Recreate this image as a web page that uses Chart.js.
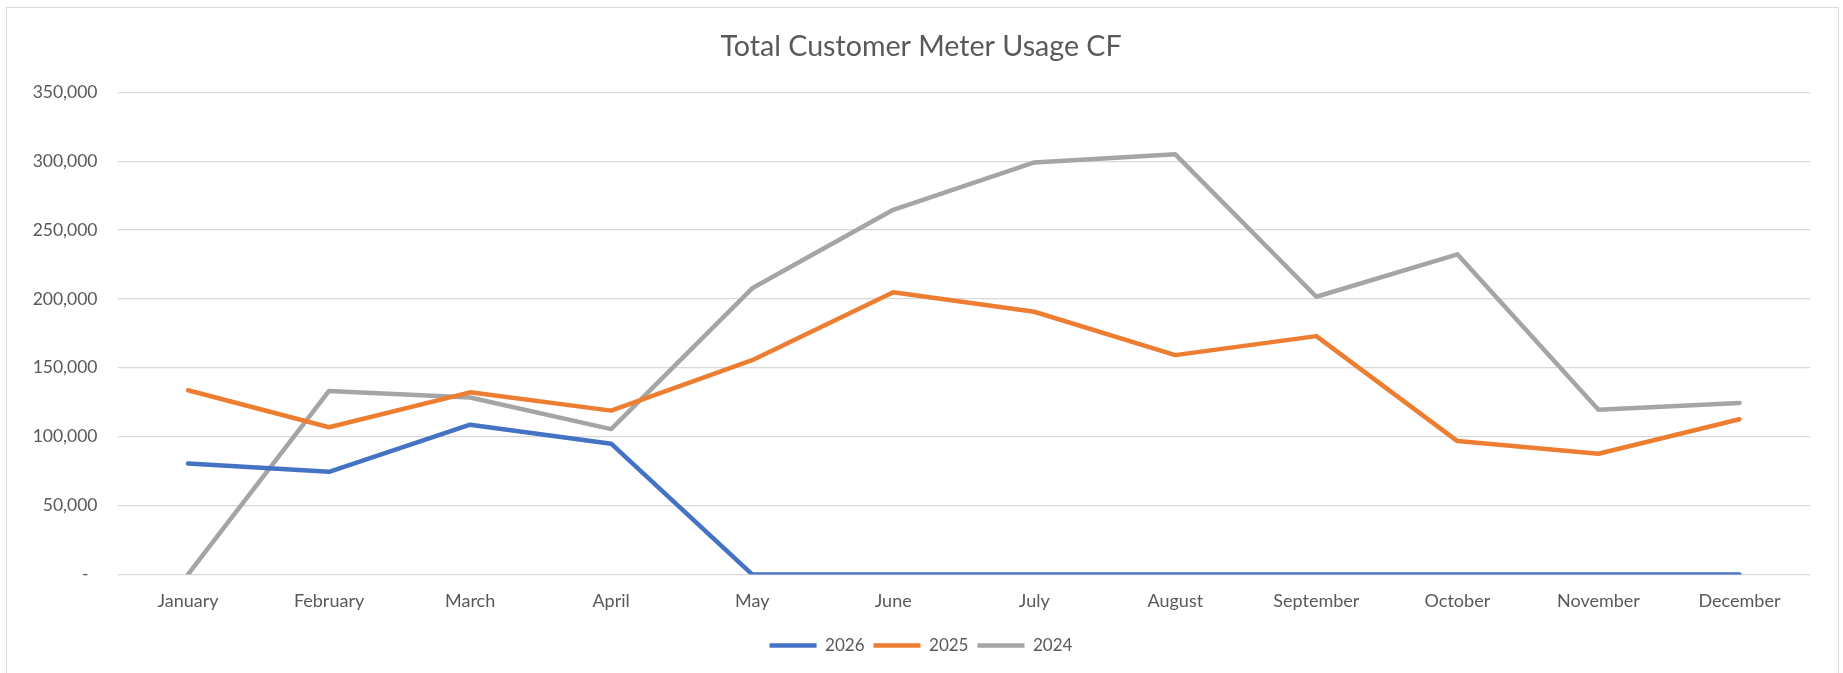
<!DOCTYPE html>
<html>
<head>
<meta charset="utf-8">
<script src="https://cdn.jsdelivr.net/npm/chart.js@4"></script>
<style>
  html, body { margin: 0; padding: 0; background: #fff; }
  #wrap { position: relative; width: 1843px; height: 673px; }
  #frame { position: absolute; left: 6px; top: 7px; width: 1833px; height: 700px; border: 1px solid #d9d9d9; box-sizing: border-box; }
  canvas { position: absolute; left: 0; top: 0; }
</style>
</head>
<body>
<div id="wrap">
  <div id="frame"></div>
  <canvas id="usageChart" width="1843" height="673"></canvas>
</div>
<script>
// monthly meter usage, cubic feet
var months = ['January', 'February', 'March', 'April', 'May', 'June',
  'July', 'August', 'September', 'October', 'November', 'December'];
var usage2026 = [80500, 74500, 108700, 94900, 0, 0, 0, 0, 0, 0, 0, 0];
var usage2025 = [133700, 106800, 132200, 118900, 155500, 204800, 190700, 159200, 173000, 96800, 87600, 112600];
var usage2024 = [0, 133200, 128400, 105500, 207700, 264700, 299100, 305000, 201600, 232400, 119600, 124500];
var yTicks = [0, 50000, 100000, 150000, 200000, 250000, 300000, 350000];

var textColor = '#595959';
var fontFamily = 'Lato, "Liberation Sans", sans-serif';

function lineSet(label, data, color) {
  return {
    label: label,
    data: data,
    borderColor: color,
    backgroundColor: color,
    borderWidth: 4.5,
    borderCapStyle: 'round',
    borderJoinStyle: 'round',
    pointRadius: 0,
    pointHoverRadius: 0,
    tension: 0,
    fill: false
  };
}

document.addEventListener('DOMContentLoaded', function () {
  var ctx = document.getElementById('usageChart').getContext('2d');
  new Chart(ctx, {
    type: 'line',
    data: {
      labels: months,
      datasets: [
        lineSet('2026', usage2026, '#4472C4'),
        lineSet('2025', usage2025, '#ED7D31'),
        lineSet('2024', usage2024, '#A5A5A5')
      ]
    },
    options: {
      responsive: false,
      animation: false,
      layout: { padding: { left: 32, right: 33, top: 0, bottom: 9 } },
      plugins: {
        title: {
          display: true,
          text: 'Total Customer Meter Usage CF',
          color: textColor,
          font: { family: fontFamily, size: 28.6, weight: 'normal' },
          padding: { top: 29.5, bottom: 28.5 }
        },
        legend: {
          position: 'bottom',
          labels: {
            color: textColor,
            font: { family: fontFamily, size: 17 },
            usePointStyle: true,
            pointStyle: 'line',
            pointStyleWidth: 47,
            padding: 9
          }
        },
        tooltip: { enabled: false }
      },
      scales: {
        x: {
          offset: true,
          grid: { display: false, drawTicks: false, offset: true },
          border: { display: false },
          ticks: {
            color: textColor,
            font: { family: fontFamily, size: 18 },
            padding: 16,
            maxRotation: 0
          }
        },
        y: {
          min: 0,
          max: 350000,
          afterFit: function (scale) { scale.width = 85.5; },
          afterBuildTicks: function (scale) {
            scale.ticks = yTicks.map(function (v) { return { value: v }; });
          },
          grid: { color: '#d9d9d9', lineWidth: 1.3, drawTicks: false },
          border: { display: false },
          ticks: {
            color: textColor,
            font: { family: fontFamily, size: 17.5 },
            padding: 20,
            callback: function (v) {
              return v === 0 ? '-  ' : v.toLocaleString('en-US');
            }
          }
        }
      }
    }
  });
});
</script>
</body>
</html>
